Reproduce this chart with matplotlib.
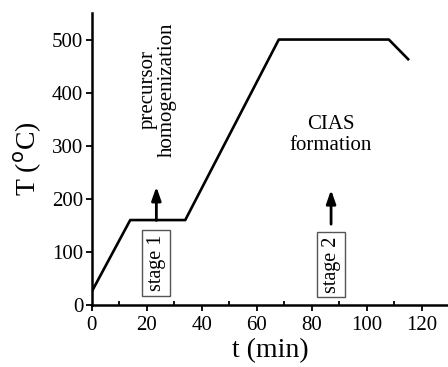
import matplotlib.pyplot as plt
from matplotlib.ticker import MultipleLocator

plt.rcParams['font.family'] = ['Liberation Serif', 'DejaVu Serif']

t = [0, 14, 34, 68, 108, 115]
T = [25, 160, 160, 500, 500, 463]

stages = ['stage 1', 'stage 2']
stage_t = [23.5, 87]
stage_box_T = [79, 76]
arrow_from = [154, 147]
arrow_to = [228, 222]

fig = plt.figure(figsize=(4.48, 3.67), dpi=100)
ax = fig.add_axes([91.7 / 448, 62 / 367, (448 - 91.7) / 448, 292 / 367])

ax.plot(t, T, color='black', lw=1.9)

for name, x, yb, y0, y1 in zip(stages, stage_t, stage_box_T, arrow_from, arrow_to):
    ax.annotate('', xy=(x, y1), xytext=(x, y0),
                arrowprops=dict(arrowstyle='-|>,head_length=0.8,head_width=0.28',
                                color='black', lw=2))
    ax.text(x, yb, name, rotation=90, ha='center', va='center', fontsize=14.5,
            bbox=dict(boxstyle='square,pad=0.22', fc='white', ec='#555555', lw=1))

ax.text(24, 405, 'precursor\nhomogenization', rotation=90, ha='center', va='center',
        fontsize=15, linespacing=1.0)
ax.text(87, 320, 'CIAS\nformation', ha='center', va='center', fontsize=15,
        linespacing=1.1)

ax.set_xlim(0, 129.5)
ax.set_ylim(0, 550)
ax.xaxis.set_major_locator(MultipleLocator(20))
ax.xaxis.set_minor_locator(MultipleLocator(10))
ax.yaxis.set_major_locator(MultipleLocator(100))
ax.tick_params(axis='both', which='major', direction='out', length=4, width=1.3,
               labelsize=15, pad=2)
ax.tick_params(axis='x', which='major', pad=4)
ax.tick_params(axis='x', which='minor', direction='in', length=3, width=1.3)
for s in ['top', 'right']:
    ax.spines[s].set_visible(False)
for s in ['left', 'bottom']:
    ax.spines[s].set_linewidth(1.8)

ax.set_xlabel('t (min)', fontsize=20, labelpad=2)
ax.set_ylabel('T ($^{\\mathrm{o}}$C)', fontsize=20, labelpad=6)

fig.savefig('out.png', dpi=100)
